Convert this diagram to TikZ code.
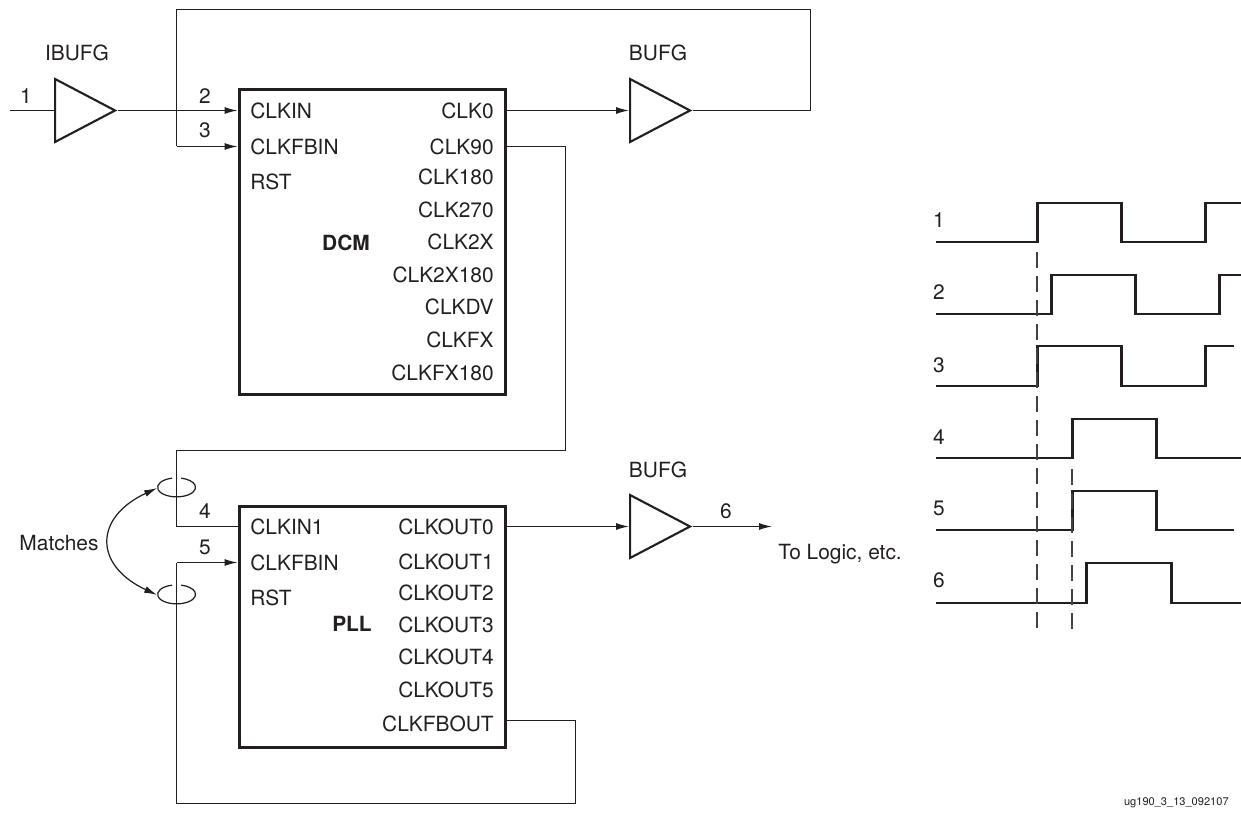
\documentclass[tikz,border=0pt]{standalone}
\usepackage{fontspec}
\setmainfont{TeX Gyre Heros}
\usepackage{tikz}
\usetikzlibrary{arrows.meta,positioning,shapes.geometric}
\definecolor{inkdark}{HTML}{231F20}

\begin{document}
\begin{tikzpicture}[
  x=0.02cm, y=-0.02cm,
  every node/.style={align=center, font=\fontsize{11.9}{14}\selectfont, text=inkdark, inner sep=0pt},
  block/.style={rectangle, draw=inkdark, line width=1.7pt, minimum width=5.34cm},
  buffer/.style={isosceles triangle, isosceles triangle stretches, draw=inkdark, line width=1.2pt, minimum width=1.26cm, minimum height=1.2cm, anchor=lower side},
  ring/.style={ellipse, minimum width=0.76cm, minimum height=0.38cm},
  portl/.style={anchor=west},
  portr/.style={anchor=east},
  wire/.style={draw=inkdark, line width=0.7pt},
  arrow/.style={wire, -{Latex[length=2.6mm,width=1.4mm]}},
  wave/.style={draw=inkdark, line width=1.7pt, miter limit=2},
  marker/.style={draw=inkdark!85, line width=0.7pt, dash pattern=on 0.32cm off 0.16cm}
]
\useasboundingbox (0,0) rectangle (1241,814);

% --- BLOCKS ---
\node[block, minimum height=6.12cm] (dcm) at (372.5,242) {};
\node[block, minimum height=4.84cm] (pll) at (372.5,627) {};
\node[font=\fontsize{11.9}{14}\selectfont\bfseries] (dcmname) at (346,243) {DCM};
\node[font=\fontsize{11.9}{14}\selectfont\bfseries] (pllname) at (352,624) {PLL};

% --- BUFFERS ---
\node[buffer] (ibufg) at (54,110.5) {};
\node[buffer] (bufgtop) at (629,110.5) {};
\node[buffer] (bufgbot) at (629,526.5) {};
\node (ibufgname) at (77,53) {IBUFG};
\node (bufgtopname) at (658,53) {BUFG};
\node (bufgbotname) at (658,470) {BUFG};

% --- DCM PORTS ---
\node[portl] (dcmclkin) at (250,110.5) {CLKIN};
\node[portl] (dcmfbin) at (250,146.5) {CLKFBIN};
\node[portl] (dcmrst) at (250,182) {RST};
\node[portr] (clkzero) at (494,110.5) {CLK0};
\node[portr] (clkninety) at (494,146.5) {CLK90};
\node[portr] (clkoneeighty) at (494,177) {CLK180};
\node[portr] (clktwoseventy) at (494,210) {CLK270};
\node[portr] (clktwox) at (494,242) {CLK2X};
\node[portr] (clktwoxoe) at (494,275) {CLK2X180};
\node[portr] (clkdv) at (494,307) {CLKDV};
\node[portr] (clkfx) at (494,340) {CLKFX};
\node[portr] (clkfxoe) at (494,373) {CLKFX180};

% --- PLL PORTS ---
\node[portl] (pllclkin) at (250,526.5) {CLKIN1};
\node[portl] (pllfbin) at (250,562.5) {CLKFBIN};
\node[portl] (pllrst) at (250,598) {RST};
\node[portr] (outzero) at (494,526.5) {CLKOUT0};
\node[portr] (outone) at (494,562) {CLKOUT1};
\node[portr] (outtwo) at (494,593) {CLKOUT2};
\node[portr] (outthree) at (494,625) {CLKOUT3};
\node[portr] (outfour) at (494,657) {CLKOUT4};
\node[portr] (outfive) at (494,690) {CLKOUT5};
\node[portr] (pllfbout) at (494,724) {CLKFBOUT};

% --- FREE ENDS AND ROUTING POINTS ---
\coordinate (clockin) at (10,110.5);
\coordinate (fbtopleft) at (176.5,9.5);
\coordinate (fbtopright) at (810.5,9.5);
\coordinate (midright) at (565.5,450.5);
\coordinate (midleft) at (176.5,450.5);
\coordinate (fbtap) at (372.5,720.5);
\coordinate (fbbotright) at (575.5,803.5);
\coordinate (fbbotleft) at (176.5,803.5);
\coordinate (logicout) at (772,526.5);

% --- NET NUMBERS ---
\node (netone) at (26,96) {1};
\node (nettwo) at (205,96) {2};
\node (netthree) at (205,130) {3};
\node (netfour) at (205,511) {4};
\node (netfive) at (205,547) {5};
\node (netsix) at (726,511) {6};
\node[anchor=west] (tologic) at (778,554) {To Logic, etc.};

% --- CLOCK INPUT ---
\draw[wire] (clockin) -- (ibufg.lower side);
\draw[arrow] (ibufg.apex) -- (ibufg.apex -| dcm.west);
\draw[arrow] (fbtopleft |- dcmfbin) -- (dcmfbin -| dcm.west);

% --- DCM FEEDBACK ---
\draw[arrow] (clkzero -| dcm.east) -- (bufgtop.lower side);
\draw[wire] (bufgtop.apex) -| (fbtopright) -- (fbtopleft) -- (fbtopleft |- dcmfbin);

% --- DCM TO PLL ---
\draw[wire] (clkninety -| dcm.east) -| (midright) -- (midleft) |- (pllclkin -| pll.west);

% --- PLL FEEDBACK ---
\draw[wire] (fbtap -| pll.east) -| (fbbotright) -- (fbbotleft) -- (fbbotleft |- pllfbin);
\draw[arrow] (fbbotleft |- pllfbin) -- (pllfbin -| pll.west);

% --- PLL OUTPUT ---
\draw[arrow] (outzero -| pll.east) -- (bufgbot.lower side);
\draw[arrow] (bufgbot.apex) -- (logicout);

% --- MATCHED LENGTHS ---
\node[ring] (matcha) at (176.5,488) {};
\node[ring] (matchb) at (176.5,595) {};
\draw[wire] ([xshift=-0.09cm]matcha.north) arc[start angle=104, end angle=436, x radius=0.38cm, y radius=0.19cm];
\draw[wire] ([xshift=-0.09cm]matchb.north) arc[start angle=104, end angle=436, x radius=0.38cm, y radius=0.19cm];
\node (matches) at (59,543) {Matches};
\draw[wire, {Latex[length=2.6mm,width=1.4mm]}-{Latex[length=2.6mm,width=1.4mm]}] (matcha.west) to[out=205, in=155, distance=1.4cm] (matchb.west);

% --- WAVEFORMS ---
\node (waveone) at (939,220) {1};
\node (wavetwo) at (939,292) {2};
\node (wavethree) at (939,365) {3};
\node (wavefour) at (939,437) {4};
\node (wavefive) at (939,508) {5};
\node (wavesix) at (939,580) {6};

\draw[wave] (936,242) -- (1037,242) -- (1037,203) -- (1121,203) -- (1121,242) -- (1205,242) -- (1205,203) -- (1241,203);
\draw[wave] (936,314) -- (1051,314) -- (1051,275) -- (1135,275) -- (1135,314) -- (1219,314) -- (1219,275) -- (1241,275);
\draw[wave] (936,386) -- (1037,386) -- (1037,346) -- (1121,346) -- (1121,386) -- (1205,386) -- (1205,346) -- (1234,346);
\draw[wave] (936,458) -- (1072,458) -- (1072,419) -- (1156,419) -- (1156,458) -- (1241,458);
\draw[wave] (936,530) -- (1072,530) -- (1072,491) -- (1156,491) -- (1156,530) -- (1234,530);
\draw[wave] (936,603) -- (1086,603) -- (1086,563) -- (1171,563) -- (1171,603) -- (1241,603);

% --- TIMING MARKERS ---
\draw[marker] (1037,252) -- (1037,628);
\draw[marker] (1072,469) -- (1072,629);

\node[anchor=east, font=\fontsize{6.3}{8}\selectfont] (figid) at (1229,803) {ug190\_3\_13\_092107};

\end{tikzpicture}
\end{document}
